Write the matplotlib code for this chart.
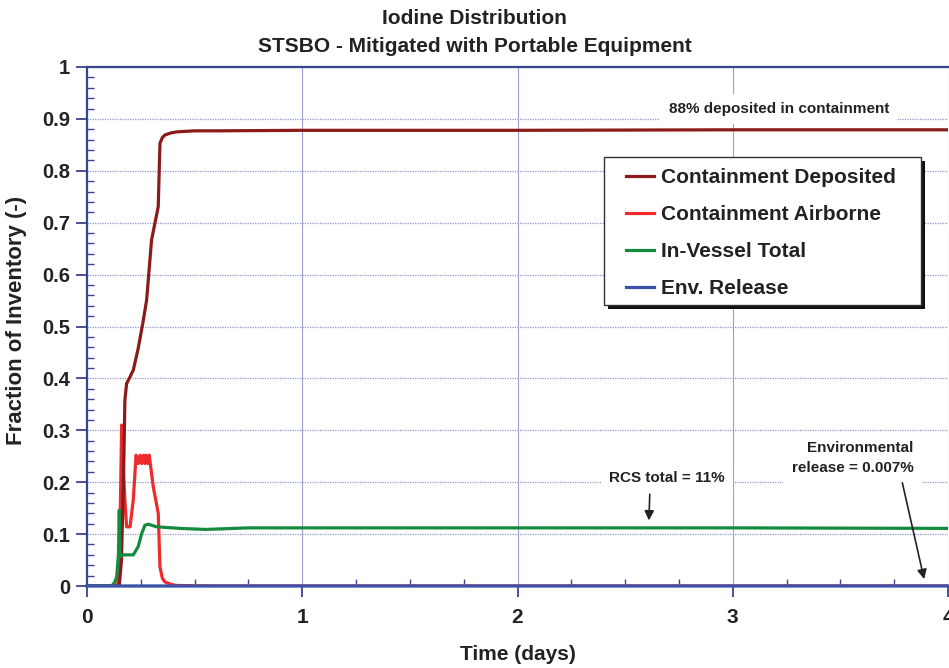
import matplotlib
matplotlib.use("Agg")
import matplotlib.pyplot as plt
from matplotlib.patches import Rectangle
from matplotlib.ticker import MultipleLocator

plt.rcParams['font.family'] = ['Liberation Sans', 'DejaVu Sans']
plt.rcParams['font.weight'] = 'bold'

# ---- data (time in days, fraction of inventory) ----
dep_t = [0.0, 0.150, 0.160, 0.169, 0.176, 0.184, 0.200, 0.215, 0.238, 0.262, 0.277,
         0.300, 0.331, 0.336, 0.339, 0.350, 0.362, 0.390, 0.417, 0.50, 0.618, 1.0, 2.0, 3.0, 4.0]
dep_v = [0.0, 0.0, 0.05, 0.191, 0.358, 0.390, 0.403, 0.416, 0.458, 0.513, 0.551,
         0.667, 0.731, 0.808, 0.853, 0.864, 0.869, 0.873, 0.875, 0.877, 0.877, 0.878, 0.878, 0.879, 0.879]

air_t = [0.0, 0.140, 0.150, 0.161, 0.168, 0.176, 0.184, 0.200, 0.215, 0.228, 0.238, 0.246,
         0.254, 0.262, 0.268, 0.274, 0.282, 0.289, 0.308, 0.331, 0.339, 0.350, 0.362, 0.390,
         0.417, 0.60, 1.0, 4.0]
air_v = [0.0, 0.0, 0.02, 0.310, 0.230, 0.166, 0.114, 0.114, 0.166, 0.252, 0.236, 0.252,
         0.236, 0.252, 0.236, 0.252, 0.236, 0.252, 0.191, 0.140, 0.037, 0.015, 0.008, 0.003,
         0.001, 0.0, 0.0, 0.0]

ves_t = [0.0, 0.115, 0.130, 0.138, 0.146, 0.150, 0.153, 0.169, 0.215, 0.238, 0.254, 0.269,
         0.285, 0.324, 0.432, 0.55, 0.618, 0.75, 1.0, 2.0, 3.0, 4.0]
ves_v = [0.0, 0.0, 0.008, 0.018, 0.060, 0.146, 0.056, 0.060, 0.060, 0.076, 0.101, 0.117,
         0.119, 0.114, 0.111, 0.109, 0.110, 0.112, 0.112, 0.112, 0.112, 0.111]

env_t = [0.0, 1.0, 2.0, 3.0, 4.0]
env_v = [0.0, 0.00002, 0.00004, 0.00006, 0.00007]

labels = ["Containment Deposited", "Containment Airborne", "In-Vessel Total", "Env. Release"]
colors = ["#8b1a1a", "#ee2a2a", "#138a3e", "#3a52a8"]
ytick_labels = ["0", "0.1", "0.2", "0.3", "0.4", "0.5", "0.6", "0.7", "0.8", "0.9", "1"]

fig = plt.figure(figsize=(9.49, 6.68), dpi=100)
ax = fig.add_axes([87/949, 1-586/668, (948-87)/949, (586-67)/668])

lw = 2.3
ax.plot(dep_t, dep_v, color=colors[0], lw=lw, label=labels[0], zorder=5)
ax.plot(air_t, air_v, color=colors[1], lw=lw, label=labels[1], zorder=4)
ax.plot(ves_t, ves_v, color=colors[2], lw=lw, label=labels[2], zorder=6)
ax.plot(env_t, env_v, color=colors[3], lw=lw, label=labels[3], zorder=7, clip_on=False)

ax.set_xlim(0, 4)
ax.set_ylim(0, 1)
ax.xaxis.set_major_locator(MultipleLocator(1))
ax.xaxis.set_minor_locator(MultipleLocator(0.25))
ax.yaxis.set_minor_locator(MultipleLocator(0.02))
ax.set_yticks([i / 10 for i in range(11)])
ax.set_yticklabels(ytick_labels)

spine_c = "#38458f"
for s in ['left', 'bottom', 'top']:
    ax.spines[s].set_color(spine_c)
    ax.spines[s].set_linewidth(1.6)
ax.spines['right'].set_visible(False)

ax.tick_params(axis='both', which='major', direction='out', length=8, width=1.3, colors=spine_c)
ax.tick_params(axis='both', which='minor', direction='in', length=5, width=1.0, colors=spine_c)
ax.tick_params(axis='x', labelsize=15, labelcolor='#222222', pad=8)
ax.tick_params(axis='y', labelsize=14.5, labelcolor='#222222', pad=4)
for lab in ax.get_xticklabels() + ax.get_yticklabels():
    lab.set_fontweight('bold')

ax.grid(axis='y', which='major', color='#8f95c9', linestyle=(0, (1, 1)), lw=0.9, zorder=0)
ax.grid(axis='x', which='major', color='#9ba0d2', linestyle='-', lw=0.8, zorder=0)
ax.set_axisbelow(True)

ax.set_xlabel("Time (days)", fontsize=15, fontweight='bold', color='#222222', labelpad=13)
ax.set_ylabel("Fraction of Inventory (-)", fontsize=16, fontweight='bold', color='#222222')
ax.yaxis.set_label_coords(-0.0695, 0.5125)

fig.text(0.5, 1-18/668, "Iodine Distribution", ha='center', va='center',
         fontsize=15, fontweight='bold', color='#222222')
fig.text(0.5, 1-46/668, "STSBO - Mitigated with Portable Equipment", ha='center', va='center',
         fontsize=15, fontweight='bold', color='#222222')

# annotations
box = dict(facecolor='white', edgecolor='none', pad=6)
ax.text(3.214, 0.919, "88% deposited in containment", ha='center', va='center',
        fontsize=11, fontweight='bold', color='#222222', bbox=box, zorder=8)
ax.text(2.694, 0.208, "RCS total = 11%", ha='center', va='center',
        fontsize=11, fontweight='bold', color='#222222', bbox=box, zorder=8)
ax.annotate("", xy=(2.61, 0.121), xytext=(2.615, 0.182),
            arrowprops=dict(arrowstyle='-|>', color='#222222', lw=1.2, mutation_scale=14), zorder=9)
ax.text(3.84, 0.246, "Environmental\nrelease = 0.007%", ha='right', va='center',
        fontsize=11, fontweight='bold', color='#222222', bbox=box, zorder=8, linespacing=1.55)
ax.annotate("", xy=(3.892, 0.008), xytext=(3.785, 0.204),
            arrowprops=dict(arrowstyle='-|>', color='#222222', lw=1.2, mutation_scale=14), zorder=9)

# legend box with hard shadow
lx0, ly0 = 604/949, 1-305/668
lw_, lh_ = (921-604)/949, (305-157)/668
ax.add_patch(Rectangle((lx0 + 4/949, ly0 - 4/668), lw_, lh_, transform=fig.transFigure,
                       facecolor='#111111', edgecolor='none', zorder=10, clip_on=False))
ax.add_patch(Rectangle((lx0, ly0), lw_, lh_, transform=fig.transFigure,
                       facecolor='white', edgecolor='#333333', lw=1.0, zorder=11, clip_on=False))
leg = ax.legend(loc='upper left', bbox_to_anchor=(626/949, 1-168/668), bbox_transform=fig.transFigure,
                frameon=False, prop={'weight': 'bold', 'size': 15}, handlelength=1.35,
                handletextpad=0.35, labelspacing=0.87, borderpad=0, borderaxespad=0)
leg.set_zorder(12)
for t in leg.get_texts():
    t.set_color('#222222')

fig.savefig("out.png", dpi=100)
